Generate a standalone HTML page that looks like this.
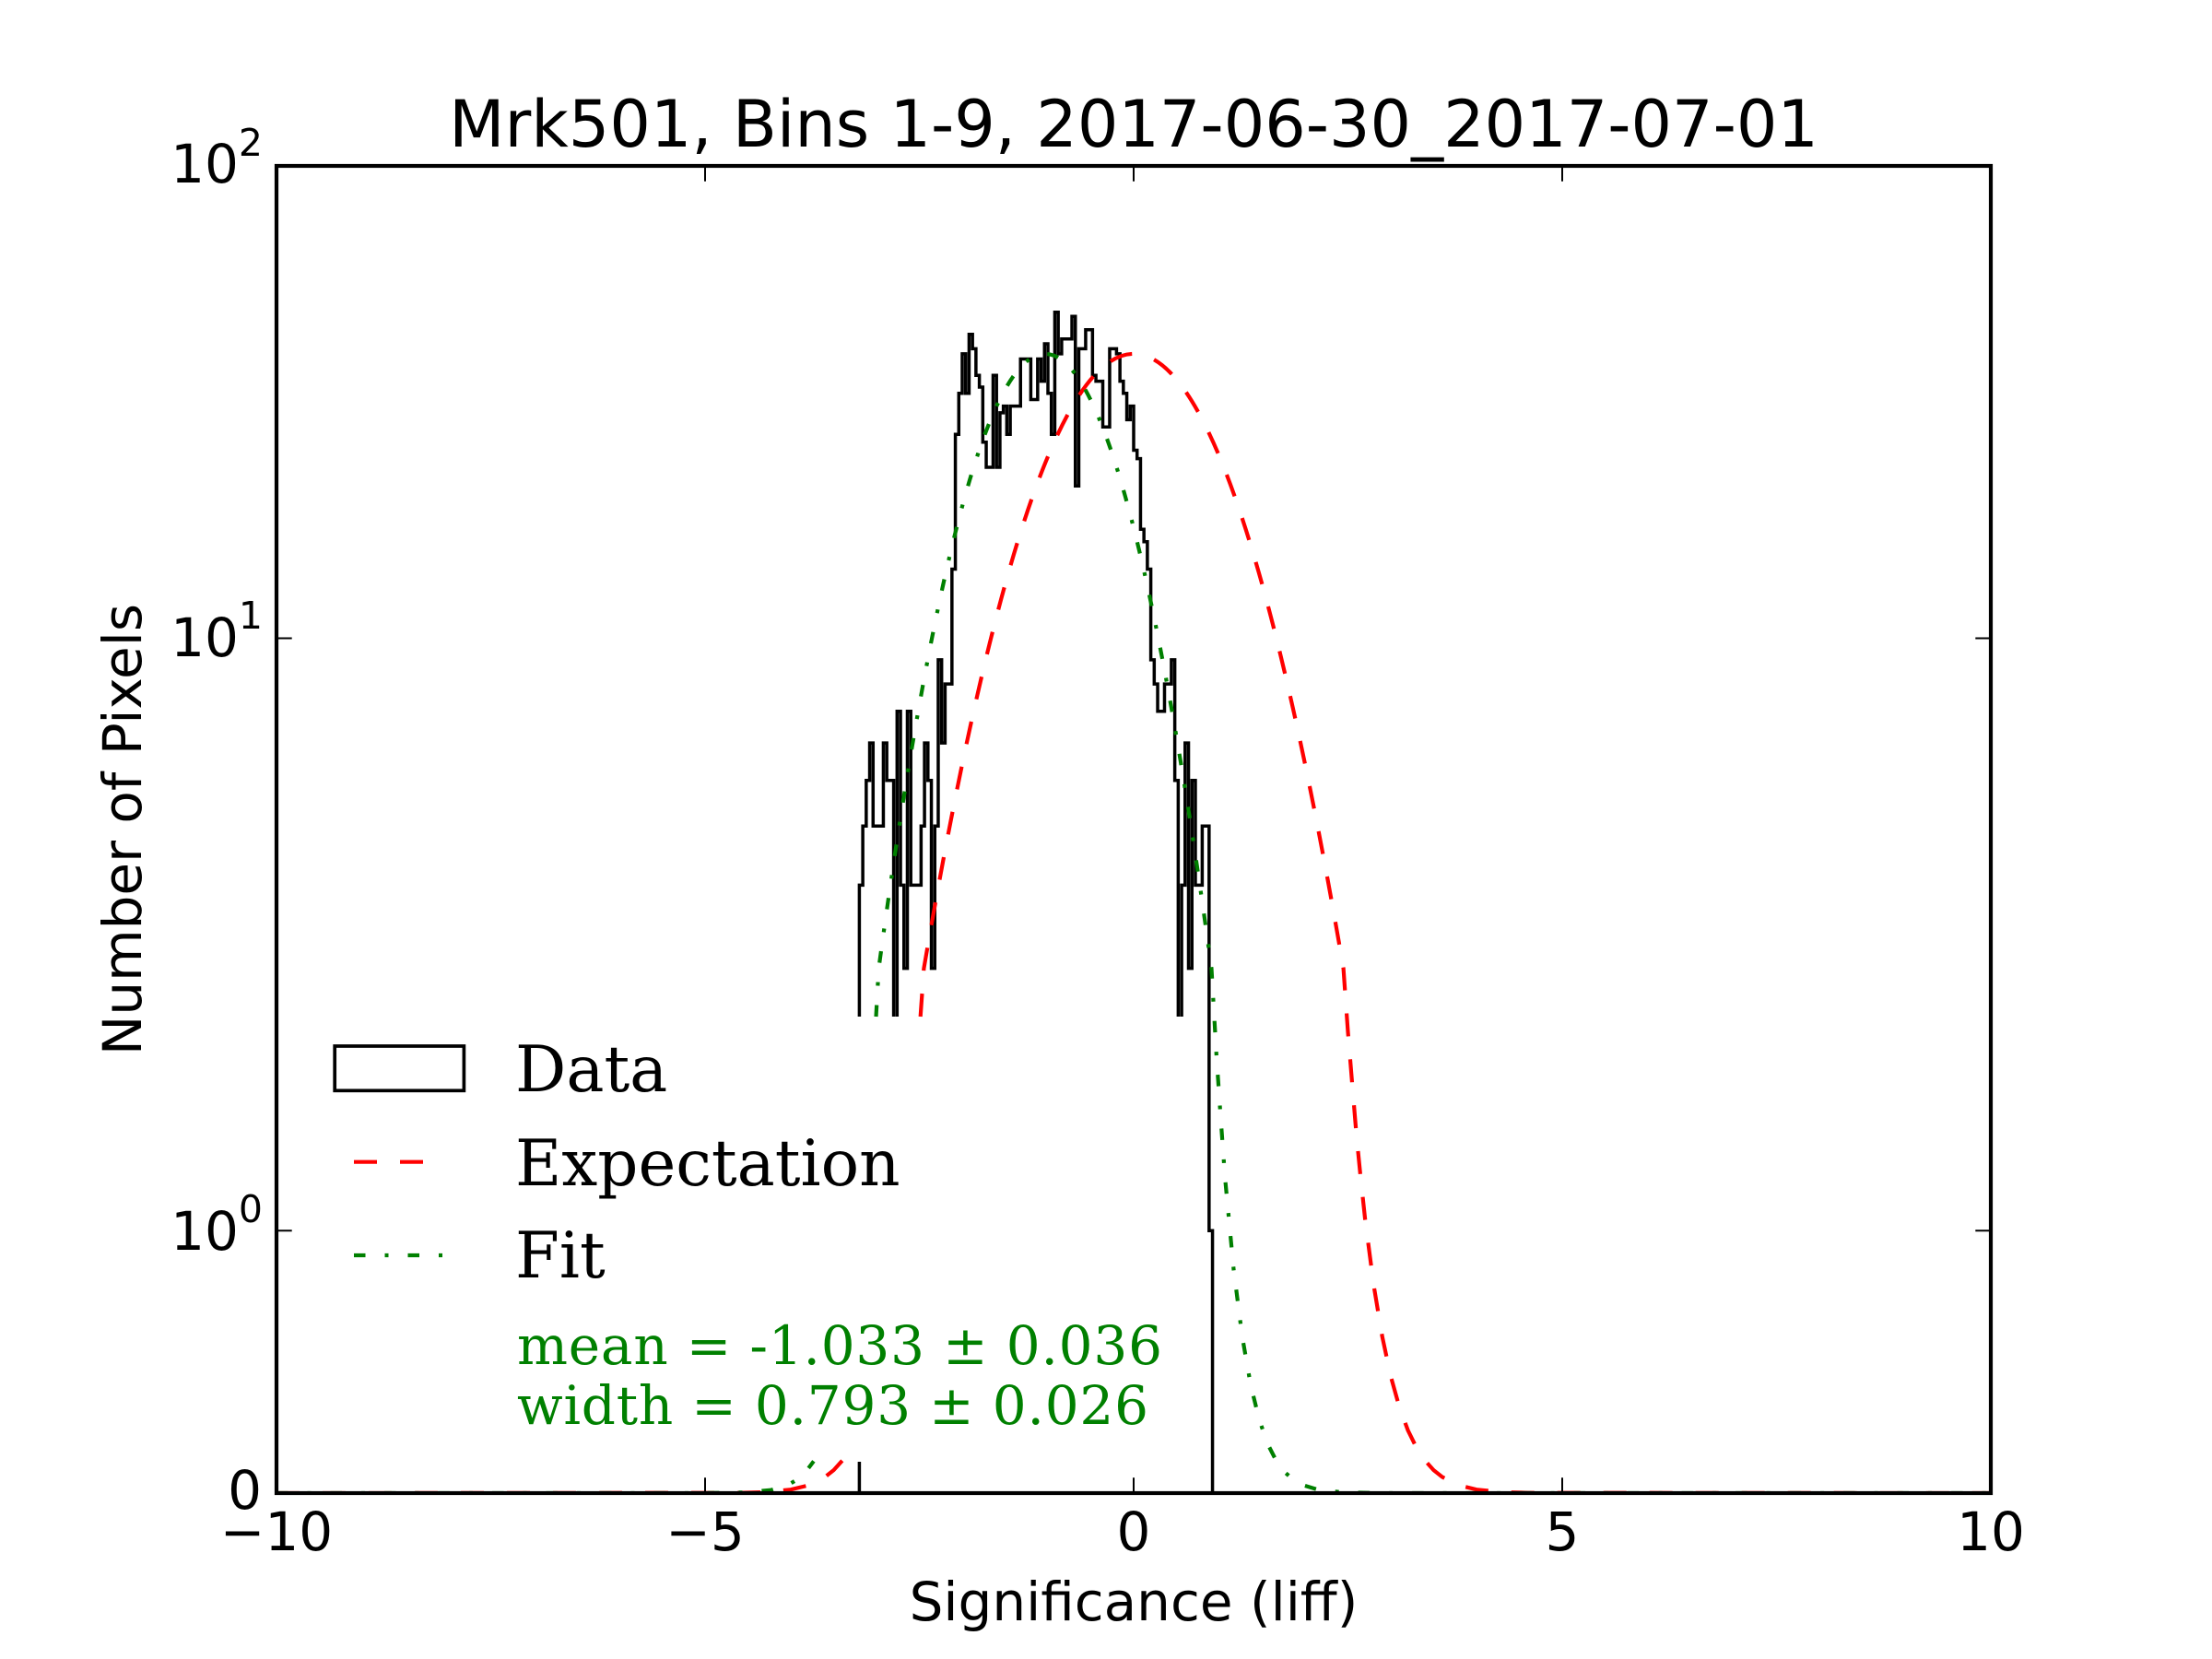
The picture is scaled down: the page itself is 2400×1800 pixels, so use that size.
<!DOCTYPE html>
<html>
<head>
<meta charset="utf-8">
<style>
html,body{margin:0;padding:0;background:#fff;}
svg{display:block;}
.sans{font-family:"DejaVu Sans","Liberation Sans",sans-serif;}
.serif{font-family:"DejaVu Serif","Liberation Serif",serif;}
</style>
</head>
<body>
<svg width="2400" height="1800" viewBox="0 0 2400 1800" xmlns="http://www.w3.org/2000/svg">
<rect x="0" y="0" width="2400" height="1800" fill="#ffffff"/>
<defs>
<clipPath id="ax"><rect x="300" y="180" width="1860" height="1440"/></clipPath>
</defs>

<g clip-path="url(#ax)" fill="none">
<!-- Histogram -->
<path stroke="#000" stroke-width="3.5" stroke-linejoin="miter" d="M932.4 1103 V960.4 H936.12 V896.3 H939.84 V846.7 H943.56 V806.1 H947.28 V896.3 H958.44 V806.1 H962.16 V846.7 H969.6 V1103 M973.32 1103 V771.8 H977.04 V960.4 H980.76 V1050.6 H984.48 V771.8 H988.2 V960.4 H999.36 V896.3 H1003.08 V806.1 H1006.8 V846.7 H1010.52 V1050.6 H1014.24 V896.3 H1017.96 V715.9 H1021.68 V806.1 H1025.4 V742.1 H1032.84 V617.5 H1036.56 V471.3 H1040.28 V426.7 H1044 V383.9 H1047.72 V426.7 H1051.44 V362.7 H1055.16 V378.4 H1058.88 V407.3 H1062.6 V420 H1066.32 V479.8 H1070.04 V507 H1077.48 V407.3 H1081.2 V507 H1084.92 V447.9 H1088.64 V440.6 H1092.36 V471.3 H1096.08 V440.6 H1107.24 V389.5 H1118.4 V433.5 H1125.84 V389.5 H1129.56 V413.6 H1133.28 V373 H1137 V426.7 H1140.72 V471.3 H1144.44 V338.7 H1148.16 V383.9 H1151.88 V367.8 H1163.04 V343.3 H1166.76 V527.3 H1170.48 V378.4 H1177.92 V357.7 H1185.36 V407.3 H1189.08 V413.6 H1196.52 V463.3 H1203.96 V378.4 H1211.4 V383.9 H1215.12 V413.6 H1218.84 V426.7 H1222.56 V455.4 H1226.28 V440.6 H1230 V488.5 H1233.72 V497.6 H1237.44 V574.3 H1241.16 V587.8 H1244.88 V617.5 H1248.6 V715.9 H1252.32 V742.1 H1256.04 V771.8 H1263.48 V742.1 H1270.92 V715.9 H1274.64 V846.7 H1278.36 V1103 M1282.08 1103 V960.4 H1285.8 V806.1 H1289.52 V1050.6 H1293.24 V846.7 H1296.96 V960.4 H1304.4 V896.3 H1311.84 V1335.3 H1315.56 V1620 M932.4 1586 V1620"/>

<!-- Expectation (red dashed) -->
<path stroke="#ff0000" stroke-width="4.2" stroke-dasharray="25 25" d="M300 1620 L802.2 1619.7 L830.1 1618.9 L858 1616.2 L876.6 1611.7 L895.2 1602.5 L904.5 1595.1 L913.8 1584.8"/>
<path stroke="#ff0000" stroke-width="4.2" stroke-dasharray="25 25" d="M998.7 1103 L1002.4 1050.6 Q1230 -282.8 1457.6 1050.6 L1462.5 1119.6 L1467.2 1177 L1471.8 1232.3 L1476.4 1279 L1481.1 1322.5 L1490.4 1394.1 L1499.7 1450.1 L1509 1493.5 L1518.3 1526.7 L1527.6 1551.9 L1536.9 1570.8 L1546.2 1584.8 L1555.5 1595.1 L1564.8 1602.5 L1583.4 1611.7 L1602 1616.2 L1629.9 1618.9 L1657.8 1619.7 L2160 1620"/>

<!-- Fit (green dash-dot) -->
<path stroke="#008000" stroke-width="4.2" stroke-dasharray="12.5 21 4 21" d="M300 1620 L761.9 1620 L808.4 1619.3 L836.3 1616.7 L855 1611.1 L864.3 1605.8 L873.6 1597.6 L882.9 1585.4"/>
<path stroke="#008000" stroke-width="4.2" stroke-dasharray="12.5 21 4 21" d="M950.5 1103 L953.41 1050.6 Q1133.93 -282.76 1314.45 1050.6 L1319.93 1146.6 L1324.6 1215 L1329.2 1278.4 L1338.5 1377.3 L1347.8 1450.2 L1357.1 1503.2 L1366.4 1540.9 L1375.7 1567.3 L1385 1585.4 L1394.3 1597.6 L1403.6 1605.8 L1412.9 1611.1 L1431.5 1616.7 L1459.4 1619.3 L1505.9 1620 L2160 1620"/>
</g>

<!-- Ticks -->
<g stroke="#000" stroke-width="2" fill="none">
<path d="M300 1620 V1603.3 M765 1620 V1603.3 M1230 1620 V1603.3 M1695 1620 V1603.3 M2160 1620 V1603.3"/>
<path d="M300 180 V196.7 M765 180 V196.7 M1230 180 V196.7 M1695 180 V196.7 M2160 180 V196.7"/>
<path d="M300 1620 H316.7 M300 1335.3 H316.7 M300 692.5 H316.7 M300 180 H316.7"/>
<path d="M2160 1620 H2143.3 M2160 1335.3 H2143.3 M2160 692.5 H2143.3 M2160 180 H2143.3"/>
</g>

<!-- Axes frame -->
<rect x="300" y="180" width="1860" height="1440" fill="none" stroke="#000" stroke-width="4.2"/>

<!-- Title -->
<text class="sans" x="1230" y="159" font-size="70" text-anchor="middle" fill="#000">Mrk501, Bins 1-9, 2017-06-30_2017-07-01</text>

<!-- X tick labels -->
<g class="sans" font-size="58" text-anchor="middle" fill="#000">
<text x="300" y="1682">−10</text>
<text x="765" y="1682">−5</text>
<text x="1230" y="1682">0</text>
<text x="1695" y="1682">5</text>
<text x="2160" y="1682">10</text>
</g>

<!-- Y tick labels -->
<g class="sans" font-size="58" text-anchor="end" fill="#000">
<text x="285" y="198">10<tspan dy="-29" font-size="41">2</tspan></text>
<text x="285" y="712">10<tspan dy="-30" font-size="41">1</tspan></text>
<text x="285" y="1356">10<tspan dy="-30" font-size="41">0</tspan></text>
<text x="284" y="1637">0</text>
</g>

<!-- Axis labels -->
<text class="sans" x="1230" y="1758" font-size="58" text-anchor="middle" fill="#000">Significance (liff)</text>
<text class="sans" transform="translate(153,900) rotate(-90)" font-size="58" text-anchor="middle" fill="#000">Number of Pixels</text>

<!-- Legend -->
<rect x="363.2" y="1135" width="140.2" height="48.3" fill="none" stroke="#000" stroke-width="3.7"/>
<path d="M384 1260.7 H484" stroke="#ff0000" stroke-width="4.2" stroke-dasharray="25 25" fill="none"/>
<path d="M384 1362 H484" stroke="#008000" stroke-width="4.2" stroke-dasharray="12.5 21 4 21" fill="none"/>
<g class="serif" font-size="69" fill="#000">
<text x="559" y="1184">Data</text>
<text x="559" y="1286">Expectation</text>
<text x="559" y="1386">Fit</text>
</g>

<!-- Fit annotation -->
<g class="serif" font-size="58" fill="#008000">
<text x="561" y="1480" textLength="700" lengthAdjust="spacing">mean = -1.033 ± 0.036</text>
<text x="561" y="1545" textLength="685" lengthAdjust="spacing">width = 0.793 ± 0.026</text>
</g>
</svg>
</body>
</html>
